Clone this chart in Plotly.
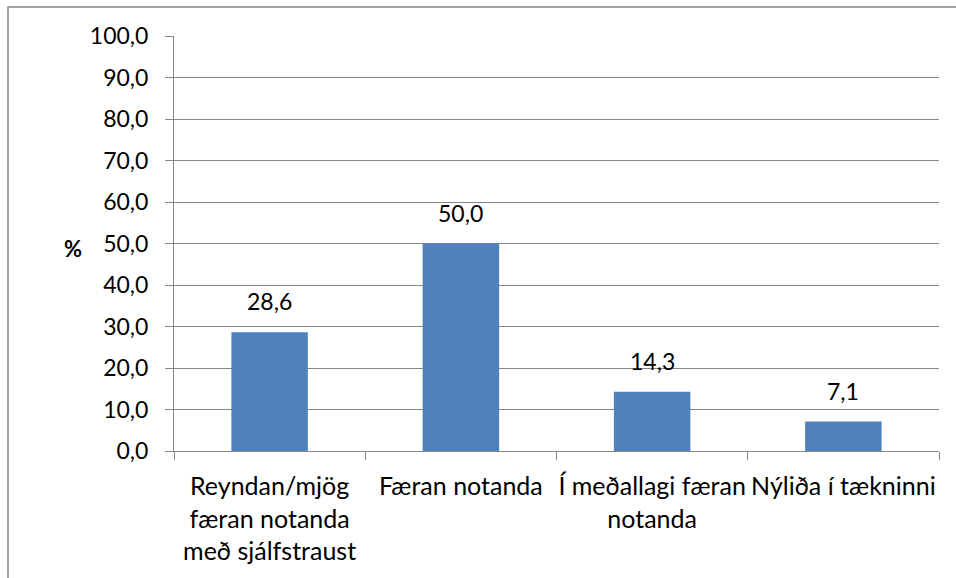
import plotly.graph_objects as go

categories = ["Reyndan/mjög<br>færan notanda<br>með sjálfstraust",
              "Færan notanda",
              "Í meðallagi færan<br>notanda",
              "Nýliða í tækninni"]
values = [28.6, 50.0, 14.3, 7.1]
y_ticks = [0, 10, 20, 30, 40, 50, 60, 70, 80, 90, 100]

W, H = 956, 578
L, R, T, B = 174, 939, 36, 451
FONT = "Lato"
grey = "#868686"

fig = go.Figure(go.Bar(
    x=categories, y=values,
    marker=dict(color="#4F81BD", line=dict(width=0)),
    hoverinfo="skip",
))

pw = R - L
ph = B - T
def px_x(x):
    return (x - L) / pw
def px_y(y):
    return (B - y) / ph

annotations = [dict(
    text="<b>%</b>", x=px_x(62), y=px_y(248), xref="paper", yref="paper",
    showarrow=False, font=dict(family=FONT, size=22),
)]
for c, v in zip(categories, values):
    annotations.append(dict(
        x=c, y=v, xref="x", yref="y", text=f"{v:.1f}".replace(".", ","),
        showarrow=False, yanchor="bottom", yshift=15,
        font=dict(family=FONT, size=23, color="black"),
    ))

fig.update_layout(
    width=W, height=H,
    margin=dict(l=L, r=W - R, t=T, b=H - B, autoexpand=False),
    paper_bgcolor="white", plot_bgcolor="white",
    separators=",.",
    bargap=0.6,
    showlegend=False,
    font=dict(family=FONT, size=23, color="black"),
    xaxis=dict(
        tickson="boundaries", ticks="outside", ticklen=8, tickcolor=grey,
        showline=True, linecolor=grey, linewidth=1, showgrid=False,
        tickfont=dict(family=FONT, size=25), ticklabelstandoff=13,
        tickangle=0, automargin=False,
    ),
    yaxis=dict(
        range=[0, 100], tickvals=y_ticks, tickformat=".1f",
        ticks="outside", ticklen=8, tickcolor=grey,
        showline=True, linecolor=grey, linewidth=1,
        showgrid=True, gridcolor=grey, gridwidth=1,
        zeroline=False, tickfont=dict(family=FONT, size=23),
        ticklabelstandoff=12, automargin=False,
    ),
    annotations=annotations,
    shapes=[dict(
        type="rect", xref="paper", yref="paper",
        x0=px_x(8), x1=px_x(962), y0=px_y(585), y1=px_y(7),
        line=dict(color=grey, width=1.5), fillcolor="rgba(0,0,0,0)", layer="below",
    )],
)

fig.write_html("out.html", config={"displayModeBar": False},
               post_script="document.body.style.margin='0';")
